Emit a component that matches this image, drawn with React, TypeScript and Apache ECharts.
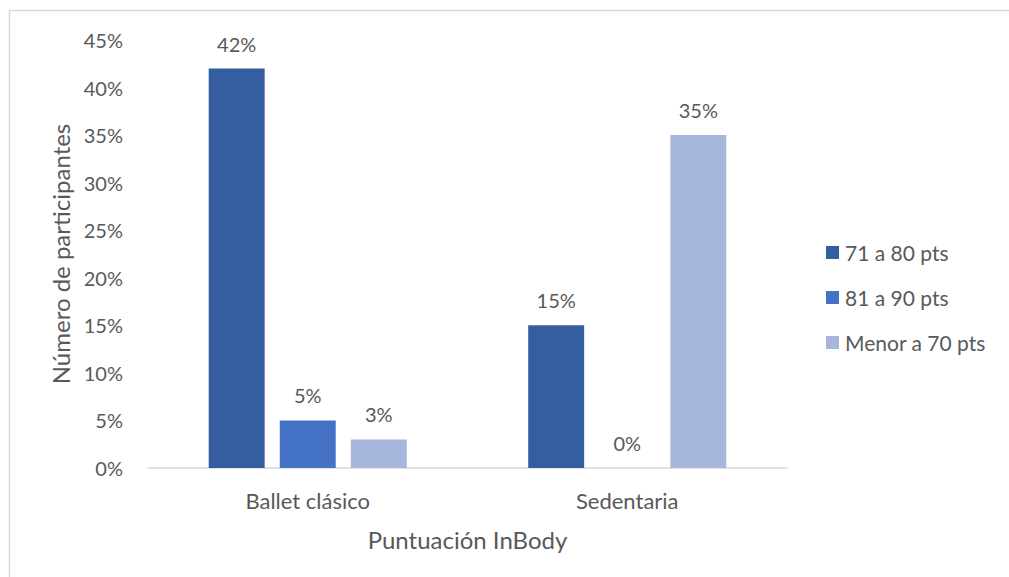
import React, { useEffect, useRef } from "react";
import * as echarts from "echarts";

const categories = ["Ballet clásico", "Sedentaria"];
const seriesNames = ["71 a 80 pts", "81 a 90 pts", "Menor a 70 pts"];
const values71a80 = [42, 15];
const values81a90 = [5, 0];
const valuesMenor70 = [3, 35];
const yTicks = [0, 5, 10, 15, 20, 25, 30, 35, 40, 45];
const colors = ["#355EA0", "#4472C4", "#A7B6DB"];

const FONT = "Lato, 'Noto Sans', sans-serif";
const TEXT = "#595959";

export default function App() {
  const ref = useRef<HTMLDivElement>(null);
  useEffect(() => {
    if (!ref.current) return;
    const chart = echarts.init(ref.current, undefined, { renderer: "svg" });
    const data = [values71a80, values81a90, valuesMenor70];
    chart.setOption({
      animation: false,
      backgroundColor: "#ffffff",
      textStyle: { fontFamily: FONT, color: TEXT },
      grid: { left: 148, right: 222, top: 40, bottom: 109, containLabel: false },
      legend: {
        orient: "vertical",
        left: 821,
        top: 237,
        itemWidth: 13,
        itemHeight: 13,
        itemGap: 24,
        icon: "rect",
        data: seriesNames,
        textStyle: { fontFamily: FONT, fontSize: 21, color: TEXT, padding: [0, 0, 0, 1] },
      },
      xAxis: {
        type: "category",
        data: categories,
        name: "Puntuación InBody",
        nameLocation: "middle",
        nameGap: 59,
        nameTextStyle: { fontFamily: FONT, fontSize: 24, color: TEXT },
        axisLine: { lineStyle: { color: "#D9D9D9", width: 1.5 } },
        axisTick: { show: false },
        axisLabel: { fontFamily: FONT, fontSize: 22, color: TEXT, margin: 21 },
      },
      yAxis: {
        type: "value",
        min: yTicks[0],
        max: yTicks[yTicks.length - 1],
        interval: 5,
        name: "Número de participantes",
        nameLocation: "middle",
        nameGap: 74,
        nameTextStyle: { fontFamily: FONT, fontSize: 24, color: TEXT },
        axisLine: { show: false },
        axisTick: { show: false },
        splitLine: { show: false },
        axisLabel: { fontFamily: FONT, fontSize: 20, color: TEXT, margin: 25, formatter: "{value}%" },
      },
      series: seriesNames.map((name, i) => ({
        name,
        type: "bar",
        data: data[i],
        barGap: "27%",
        barCategoryGap: "38%",
        itemStyle: { color: colors[i] },
        label: {
          show: true,
          position: "top",
          distance: 15,
          formatter: "{c}%",
          fontFamily: FONT,
          fontSize: 20,
          color: TEXT,
        },
      })),
      graphic: [
        { type: "line", shape: { x1: 9.5, y1: 10, x2: 9.5, y2: 577 }, style: { stroke: "#D9D9D9", lineWidth: 1.5 } },
        { type: "line", shape: { x1: 9, y1: 10.5, x2: 1009, y2: 10.5 }, style: { stroke: "#D9D9D9", lineWidth: 1.5 } },
      ],
    });
    return () => chart.dispose();
  }, []);
  return (
    <div
      ref={ref}
      style={{ position: "fixed", left: 0, top: 0, width: 1009, height: 577 }}
    />
  );
}
